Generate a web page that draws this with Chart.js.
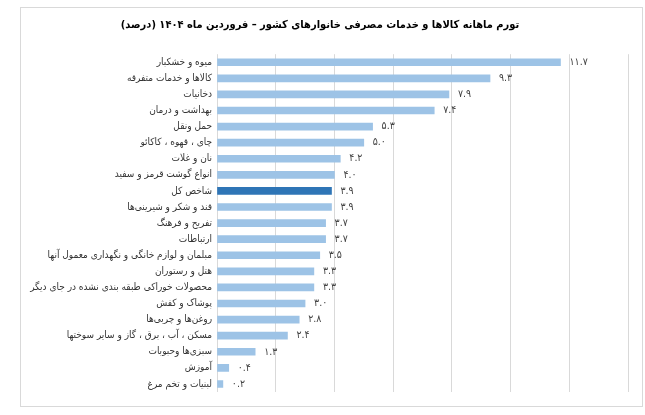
<!DOCTYPE html>
<html>
<head>
<meta charset="utf-8">
<script src="https://cdn.jsdelivr.net/npm/chart.js@4/dist/chart.umd.min.js"></script>
<style>
  html, body { margin: 0; padding: 0; background: #fff; }
  #wrap { position: relative; width: 645px; height: 415px; }
  #frame { position: absolute; left: 20px; top: 7px; width: 621px; height: 398px; border: 1px solid #d9d9d9; }
  #chart { position: absolute; left: 0; top: 0; }
</style>
</head>
<body>
<div id="wrap">
  <div id="frame"></div>
  <canvas id="chart" width="645" height="415" dir="rtl"></canvas>
</div>
<script>
"use strict";

const TITLE = "تورم ماهانه کالاها و خدمات مصرفی خانوارهای کشور – فروردین ماه ۱۴۰۴ (درصد)";

const categories = [
  "میوه و خشکبار",
  "کالاها و خدمات متفرقه",
  "دخانیات",
  "بهداشت و درمان",
  "حمل ونقل",
  "چای ، قهوه ، کاکائو",
  "نان و غلات",
  "انواع گوشت قرمز و سفید",
  "شاخص کل",
  "قند و شکر و شیرینی‌ها",
  "تفریح و فرهنگ",
  "ارتباطات",
  "مبلمان و لوازم خانگی و نگهداری معمول آنها",
  "هتل و رستوران",
  "محصولات خوراکی طبقه بندی نشده در جای دیگر",
  "پوشاک و کفش",
  "روغن‌ها و چربی‌ها",
  "مسکن ، آب ، برق ، گاز و سایر سوختها",
  "سبزی‌ها وحبوبات",
  "آموزش",
  "لبنیات و تخم مرغ",
];

const inflation = [11.7, 9.3, 7.9, 7.4, 5.3, 5.0, 4.2, 4.0, 3.9, 3.9, 3.7, 3.7, 3.5, 3.3, 3.3, 3.0, 2.8, 2.4, 1.3, 0.4, 0.2];

const xTicks = [0, 2, 4, 6, 8, 10, 12, 14];

const HIGHLIGHT = "شاخص کل";
const BAR_COLOR = "#9dc3e6";
const HIGHLIGHT_COLOR = "#2e75b6";
const FONT = "'DejaVu Sans Condensed', 'DejaVu Sans', sans-serif";

function toPersianDigits(s) {
  return s.replace(/[0-9]/g, (d) => "۰۱۲۳۴۵۶۷۸۹"[d]);
}

const valueLabels = {
  id: "valueLabels",
  afterDatasetsDraw(chart) {
    const ctx = chart.ctx;
    const meta = chart.getDatasetMeta(0);
    ctx.save();
    ctx.font = "10.5px " + FONT;
    ctx.fillStyle = "#404040";
    ctx.textAlign = "left";
    ctx.textBaseline = "middle";
    meta.data.forEach((bar, i) => {
      ctx.fillText(toPersianDigits(inflation[i].toFixed(1)), bar.x + 9, bar.y);
    });
    ctx.restore();
  },
};

new Chart(document.getElementById("chart"), {
  type: "bar",
  plugins: [valueLabels],
  data: {
    labels: categories,
    datasets: [
      {
        data: inflation,
        backgroundColor: categories.map((c) => (c === HIGHLIGHT ? HIGHLIGHT_COLOR : BAR_COLOR)),
        barThickness: 7,
        borderWidth: 0,
      },
    ],
  },
  options: {
    indexAxis: "y",
    responsive: false,
    animation: false,
    layout: { padding: { top: 0, right: 17, bottom: 23, left: 12 } },
    plugins: {
      legend: { display: false },
      tooltip: { enabled: false },
      title: {
        display: true,
        text: TITLE,
        color: "#000",
        font: { family: FONT, size: 11, weight: "bold" },
        padding: { top: 19, bottom: 22 },
      },
    },
    scales: {
      x: {
        min: xTicks[0],
        max: xTicks[xTicks.length - 1],
        afterBuildTicks: (scale) => {
          scale.ticks = xTicks.map((v) => ({ value: v }));
        },
        ticks: { display: false },
        grid: { color: "#d9d9d9", drawTicks: false },
        border: { display: false },
      },
      y: {
        grid: { display: false, drawTicks: false },
        border: { display: false },
        ticks: {
          color: "#333",
          font: { family: FONT, size: 10 },
          padding: 5,
          autoSkip: false,
        },
        afterFit: (scale) => {
          scale.width = 205;
        },
      },
    },
  },
});
</script>
</body>
</html>
